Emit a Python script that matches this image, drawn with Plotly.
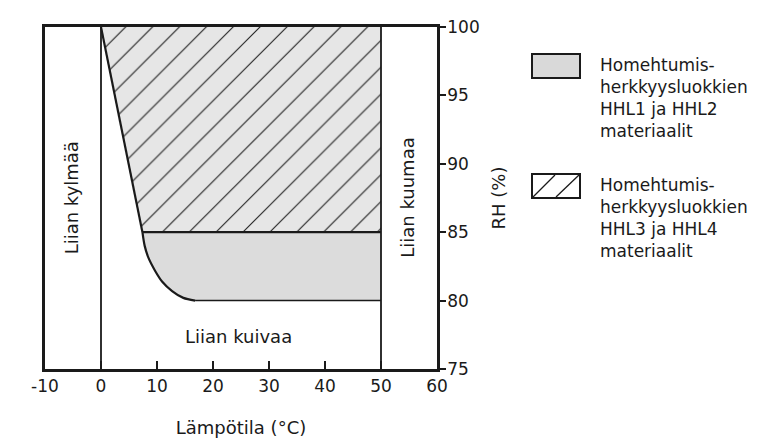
import plotly.graph_objects as go

# ---------------- data ----------------
upper_temp = [0, 7.4]
upper_rh = [100, 85]
lower_temp = [7.4, 7.8, 8.5, 9.7, 10.9, 12.7, 14.7, 16.8]
lower_rh = [85, 84, 83.1, 82.15, 81.4, 80.7, 80.2, 80]
t_min, t_max = 0, 50
rh_split = 85
rh_floor = 80
x_range = [-10, 60]
y_range = [75, 100]
x_ticks = [-10, 0, 10, 20, 30, 40, 50, 60]
y_ticks = [75, 80, 85, 90, 95, 100]
zone_text = ["Liian kylmää", "Liian kuivaa", "Liian kuumaa"]
zone_x = [-5.3, 24.6, 54.6]
zone_y = [87.5, 77.4, 87.5]
zone_angle = [-90, 0, -90]
legend_text = ["Homehtumis-<br>herkkyysluokkien<br>HHL1 ja HHL2<br>materiaalit",
               "Homehtumis-<br>herkkyysluokkien<br>HHL3 ja HHL4<br>materiaalit"]

FONT = "DejaVu Sans, Arial, sans-serif"
INK = "#1a1a1a"

# ---------------- geometry ----------------
# page body has an 8px margin, so the figure is offset by (8, 8) in the window
OFF = 8
W, H = 777, 446
ML, MR, MT, MB = 45 - OFF, 340 + OFF, 27 - OFF, 77 + OFF
PW, PH = W - ML - MR, H - MT - MB


def px(x):
    return (x - OFF - ML) / PW


def py(y):
    return (H - MB - (y - OFF)) / PH


fig = go.Figure()

# gray region (HHL1/HHL2 only)
fig.add_trace(go.Scatter(
    x=lower_temp + [t_max, t_max, lower_temp[0]],
    y=lower_rh + [rh_floor, rh_split, rh_split],
    mode="none", fill="toself", fillcolor="#dcdcdc",
    hoverinfo="skip", showlegend=False))

# hatched region (HHL3/HHL4)
fig.add_trace(go.Scatter(
    x=upper_temp + [t_max, t_max, upper_temp[0]],
    y=upper_rh + [rh_split, y_range[1], y_range[1]],
    mode="none", fill="toself",
    fillpattern=dict(shape="/", size=19, solidity=0.06,
                     fgcolor="#222222", bgcolor="#e6e6e6", fillmode="replace"),
    hoverinfo="skip", showlegend=False))

# curve
fig.add_trace(go.Scatter(x=upper_temp, y=upper_rh, mode="lines",
                         line=dict(color=INK, width=2.2), hoverinfo="skip", showlegend=False))
fig.add_trace(go.Scatter(x=lower_temp, y=lower_rh, mode="lines",
                         line=dict(color=INK, width=2.2, shape="spline", smoothing=0.8),
                         hoverinfo="skip", showlegend=False))
# 85 % line
fig.add_trace(go.Scatter(x=[upper_temp[-1], t_max], y=[rh_split, rh_split], mode="lines",
                         line=dict(color=INK, width=2.2), hoverinfo="skip", showlegend=False))
# 80 % line
fig.add_trace(go.Scatter(x=[lower_temp[-1], t_max], y=[rh_floor, rh_floor], mode="lines",
                         line=dict(color=INK, width=1.5), hoverinfo="skip", showlegend=False))
# vertical limits
for t in (t_min, t_max):
    fig.add_trace(go.Scatter(x=[t, t], y=y_range, mode="lines",
                             line=dict(color=INK, width=1.8), hoverinfo="skip", showlegend=False))

# zone labels
for txt, x, y, a in zip(zone_text, zone_x, zone_y, zone_angle):
    fig.add_annotation(x=x, y=y, text=txt, textangle=a, showarrow=False,
                       font=dict(family=FONT, size=18, color=INK))

# legend (drawn manually)
box_x0, box_x1 = px(532), px(580)
shapes = [
    dict(type="rect", xref="paper", yref="paper", x0=box_x0, x1=box_x1,
         y0=py(78), y1=py(54), fillcolor="#d9d9d9", line=dict(color=INK, width=2)),
    dict(type="rect", xref="paper", yref="paper", x0=box_x0, x1=box_x1,
         y0=py(198), y1=py(174), fillcolor="white", line=dict(color=INK, width=2)),
    dict(type="line", xref="paper", yref="paper", x0=px(533), x1=px(555),
         y0=py(197), y1=py(175), line=dict(color=INK, width=1.3)),
    dict(type="line", xref="paper", yref="paper", x0=px(556), x1=px(579),
         y0=py(197), y1=py(175), line=dict(color=INK, width=1.3)),
]
for txt, top in zip(legend_text, (53, 173)):
    fig.add_annotation(xref="paper", yref="paper", x=px(598), y=py(top), text=txt,
                       xanchor="left", yanchor="top", align="left", showarrow=False,
                       font=dict(family=FONT, size=17, color=INK))

fig.update_layout(
    width=W, height=H,
    margin=dict(l=ML, r=MR, t=MT, b=MB, pad=0),
    paper_bgcolor="white", plot_bgcolor="white",
    font=dict(family=FONT, size=17, color=INK),
    shapes=shapes,
    xaxis=dict(range=x_range, tickvals=x_ticks, ticktext=[str(v) for v in x_ticks],
               ticks="inside", ticklen=8, tickwidth=2, tickcolor=INK,
               showline=True, linewidth=2.8, linecolor=INK, mirror=True,
               showgrid=False, zeroline=False, automargin=False,
               ticklabelstandoff=0,
               title=dict(text="Lämpötila (°C)", font=dict(size=18), standoff=27)),
    yaxis=dict(range=y_range, tickvals=y_ticks, side="right",
               ticks="outside", ticklen=6, tickwidth=2, tickcolor=INK,
               showline=True, linewidth=2.8, linecolor=INK, mirror=True,
               showgrid=False, zeroline=False, automargin=False,
               ticklabelstandoff=-2,
               title=dict(text="RH (%)", font=dict(size=18), standoff=14)),
)

fig.write_html("out.html")
